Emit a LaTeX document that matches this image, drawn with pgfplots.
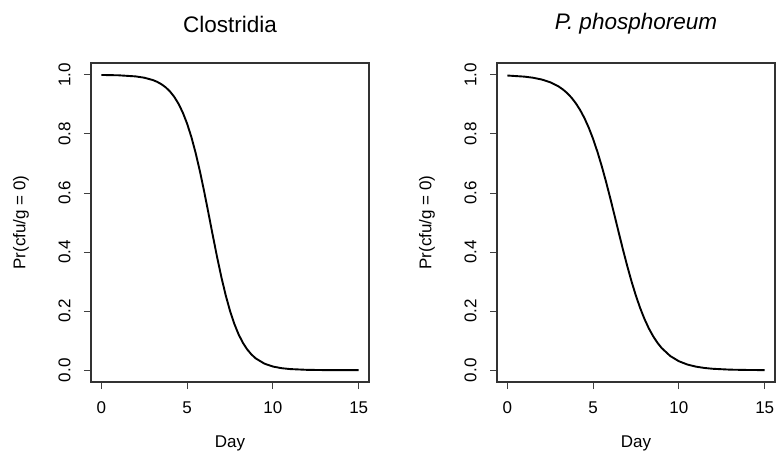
\documentclass[border=0pt]{standalone}
\usepackage{fontspec}
\setmainfont{Liberation Sans}
\usepackage{pgfplots}
\pgfplotsset{compat=1.18}

\pgfplotsset{
  rpanel/.style={
    width=278pt, height=319pt, scale only axis,
    anchor=south west,
    xmin=-0.6, xmax=15.6, ymin=-0.04, ymax=1.04,
    xtick={0,5,10,15},
    ytick={0,0.2,0.4,0.6,0.8,1.0},
    tick align=outside, major tick length=7pt,
    xtick pos=bottom, ytick pos=left,
    axis line style={line width=1.2pt, black!80},
    tick style={line width=0.9pt, black!75},
    font=\fontsize{17}{20}\selectfont,
    /pgf/number format/assume math mode=true,
    yticklabel style={/pgf/number format/fixed, /pgf/number format/fixed zerofill, /pgf/number format/precision=1},
    yticklabel style={xshift=-10pt, rotate=90, anchor=south},
    xticklabel style={yshift=-9pt},
    every axis y label/.style={at={(axis description cs:0,0.5)}, xshift=-70pt, rotate=90, anchor=center},
    every axis x label/.style={at={(axis description cs:0.5,0)}, yshift=-61pt, anchor=center},
    every axis title/.style={at={(axis description cs:0.5,1)}, yshift=39pt, anchor=center, font=\fontsize{22.5}{26}\selectfont},
    xlabel={Day},
    ylabel={Pr(cfu/g = 0)},
    clip=false,
  },
}

\begin{document}
\begin{tikzpicture}[x=1pt,y=1pt]
\useasboundingbox (0,0) rectangle (776,463);

% Clostridia
\begin{axis}[rpanel, at={(91pt,81pt)}, title={Clostridia}]
\addplot[black, line width=1.9pt] coordinates {
(0,0.99951) (1,0.99837) (2,0.99462) (2.5,0.99024) (3,0.98237)
(3.25,0.97634) (3.5,0.96833) (3.75,0.95771) (4,0.94374) (4.25,0.92553)
(4.5,0.90203) (4.75,0.87214) (5,0.83479) (5.25,0.78917) (5.5,0.73498)
(5.75,0.67260) (6,0.60348) (6.25,0.52996) (6.5,0.45512) (6.75,0.38225)
(7,0.31432) (7.25,0.25351) (7.5,0.20101) (7.75,0.15710) (8,0.12132)
(8.25,0.09279) (8.5,0.07044) (8.75,0.05315) (9,0.03992) (9.5,0.02231)
(10,0.01237) (10.5,0.00683) (11,0.00376) (12,0.00114) (13,0.00034)
(14,0.00010) (15,0.00003)
};
\end{axis}

% P. phosphoreum
\begin{axis}[rpanel, at={(497pt,81pt)}, title={\itshape P. phosphoreum}]
\addplot[black, line width=1.9pt] coordinates {
(0,0.99761) (1,0.99384) (1.5,0.99012) (2,0.98422) (2.5,0.97486)
(3,0.96017) (3.25,0.95002) (3.5,0.93748) (3.75,0.92201) (4,0.90312)
(4.25,0.88027) (4.5,0.85289) (4.75,0.82054) (5,0.78288) (5.25,0.73981)
(5.5,0.69158) (5.75,0.63877) (6,0.58237) (6.25,0.52373) (6.5,0.46444)
(6.75,0.40613) (7,0.35035) (7.25,0.29838) (7.5,0.25115) (7.75,0.20916)
(8,0.17257) (8.25,0.14124) (8.5,0.11481) (8.75,0.09279) (9,0.07464)
(9.5,0.04776) (10,0.03025) (10.5,0.01903) (11,0.01192) (11.5,0.00745)
(12,0.00464) (13,0.00180) (14,0.00070) (15,0.00027)
};
\end{axis}
\end{tikzpicture}
\end{document}
